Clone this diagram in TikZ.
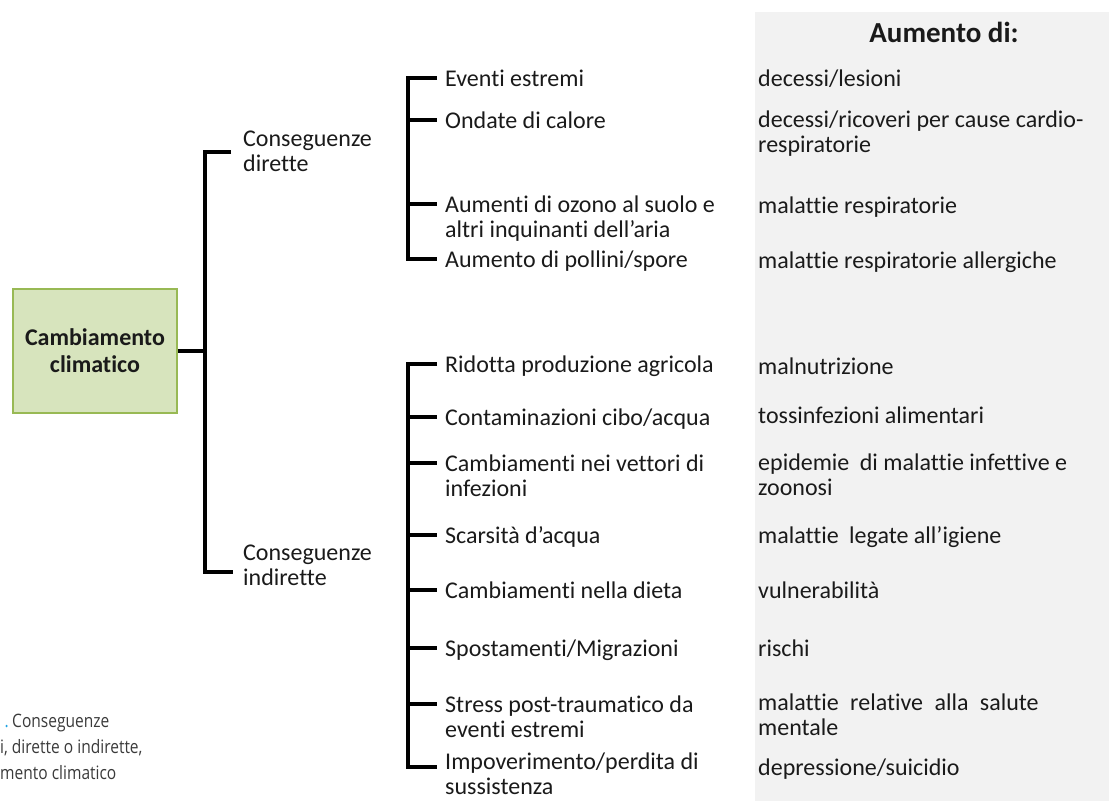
\documentclass[tikz,border=0pt]{standalone}
\usepackage{fontspec}
\setmainfont{Carlito}[Ligatures=NoCommon]
\newfontfamily\capfont[FakeStretch=0.84]{Open Sans}
\usetikzlibrary{calc}
\definecolor{panel}{HTML}{F2F2F2}
\definecolor{boxfill}{HTML}{D7E4BD}
\definecolor{boxline}{HTML}{98B954}
\definecolor{capblue}{HTML}{1BA1E2}
\definecolor{captext}{HTML}{3A3A3A}
\definecolor{ink}{HTML}{1A1A1A}
% two lines whose baseline is the one of the first line
\newcommand{\twolines}[2]{\vtop{\hbox{#1}\hbox{#2}}}
\begin{document}
\begin{tikzpicture}[x=1pt,y=-1pt,
  br/.style={line width=3.6pt, line cap=butt, line join=miter},
  lbl/.style={font=\fontsize{24}{25}\selectfont, text=ink, inner sep=0pt,
              anchor=base west},
  caption/.style={font=\capfont\fontsize{18.5}{25}\selectfont, text=captext,
              inner sep=0pt, anchor=base west},
  rootbox/.style={draw=boxline, fill=boxfill, line width=1.6pt,
              minimum width=164pt, minimum height=124pt, align=center,
              font=\bfseries\fontsize{24}{27}\selectfont, text=ink}
]
\useasboundingbox (0,0) rectangle (1109,801);

% grey column with the effects
\fill[panel] (755,12) rectangle (1109,801);
\node[font=\bfseries\fontsize{29}{30}\selectfont, text=ink, inner sep=0pt,
      anchor=base] (head) at (944,42) {Aumento di:};

% root
\node[rootbox] (cc) at (95,351) {Cambiamento\\climatico};

% first level
\node[lbl] (dir) at (243,146) {\twolines{Conseguenze}{dirette}};
\node[lbl] (ind) at (243,560) {\twolines{Conseguenze}{indirette}};

% direct consequences
\node[lbl] (e1) at (445,86)  {Eventi estremi};
\node[lbl] (e2) at (445,128) {Ondate di calore};
\node[lbl] (e3) at (445,212) {\twolines{Aumenti di ozono al suolo e}{altri inquinanti dell’aria}};
\node[lbl] (e4) at (445,267) {Aumento di pollini/spore};

% indirect consequences
\node[lbl] (i1) at (445,372) {Ridotta produzione agricola};
\node[lbl] (i2) at (445,425) {Contaminazioni cibo/acqua};
\node[lbl] (i3) at (445,471) {\twolines{Cambiamenti nei vettori di}{infezioni}};
\node[lbl] (i4) at (445,543) {Scarsità d’acqua};
\node[lbl] (i5) at (445,598) {Cambiamenti nella dieta};
\node[lbl] (i6) at (445,656) {Spostamenti/Migrazioni};
\node[lbl] (i7) at (445,712) {\twolines{Stress post-traumatico da}{eventi estremi}};
\node[lbl] (i8) at (445,769) {\twolines{Impoverimento/perdita di}{sussistenza}};

% effects
\node[lbl] (r1)  at (758,86)  {decessi/lesioni};
\node[lbl] (r2)  at (758,127) {\twolines{decessi/ricoveri per cause cardio-}{respiratorie}};
\node[lbl] (r3)  at (758,213) {malattie respiratorie};
\node[lbl] (r4)  at (758,268) {malattie respiratorie allergiche};
\node[lbl] (r5)  at (758,374) {malnutrizione};
\node[lbl] (r6)  at (758,423) {tossinfezioni alimentari};
\node[lbl] (r7)  at (758,470) {\twolines{epidemie\hspace{5pt} di malattie infettive e}{zoonosi}};
\node[lbl] (r8)  at (758,543) {malattie\hspace{5pt} legate all’igiene};
\node[lbl] (r9)  at (758,598) {vulnerabilità};
\node[lbl] (r10) at (758,656) {rischi};
\node[lbl] (r11) at (758,710) {\twolines{malattie\hspace{6pt} relative\hspace{6pt} alla\hspace{6pt} salute}{mentale}};
\node[lbl] (r12) at (758,775) {depressione/suicidio};

% caption
\node[caption] (c1) at (12,727) {Conseguenze};
\node[caption, text=capblue, anchor=base east] (c0) at (c1.base west) {.\,};
\node[caption] (c2) at (0,753) {i, dirette o indirette,};
\node[caption] (c3) at (0,779) {mento climatico};

% root bracket
\coordinate (bx0) at (205,0);
\coordinate (td) at ($(dir.base west)+(-12,6)$);
\coordinate (ti) at ($(ind.base west)+(-10,12)$);
\draw[br] (cc.east) -- (cc.east -| bx0);
\draw[br] (td) -- (td -| bx0) -- (ti -| bx0) -- (ti);

% brackets of the second level
\coordinate (bx1) at (408,0);
\foreach \n in {e1,e2,e3,e4,i1,i2,i3,i4,i5,i6,i7}
  \coordinate (t\n) at ($(\n.base west)+(-8,-8)$);
\coordinate (ti8) at ($(i8.base west)+(-8,-2)$);
\draw[br] (te1) -- (te1 -| bx1) -- (te4 -| bx1) -- (te4);
\foreach \n in {e2,e3}
  \draw[br] (t\n -| bx1) -- (t\n);
\draw[br] (ti1) -- (ti1 -| bx1) -- (ti8 -| bx1) -- (ti8);
\foreach \n in {i2,i3,i4,i5,i6,i7}
  \draw[br] (t\n -| bx1) -- (t\n);
\end{tikzpicture}
\end{document}
